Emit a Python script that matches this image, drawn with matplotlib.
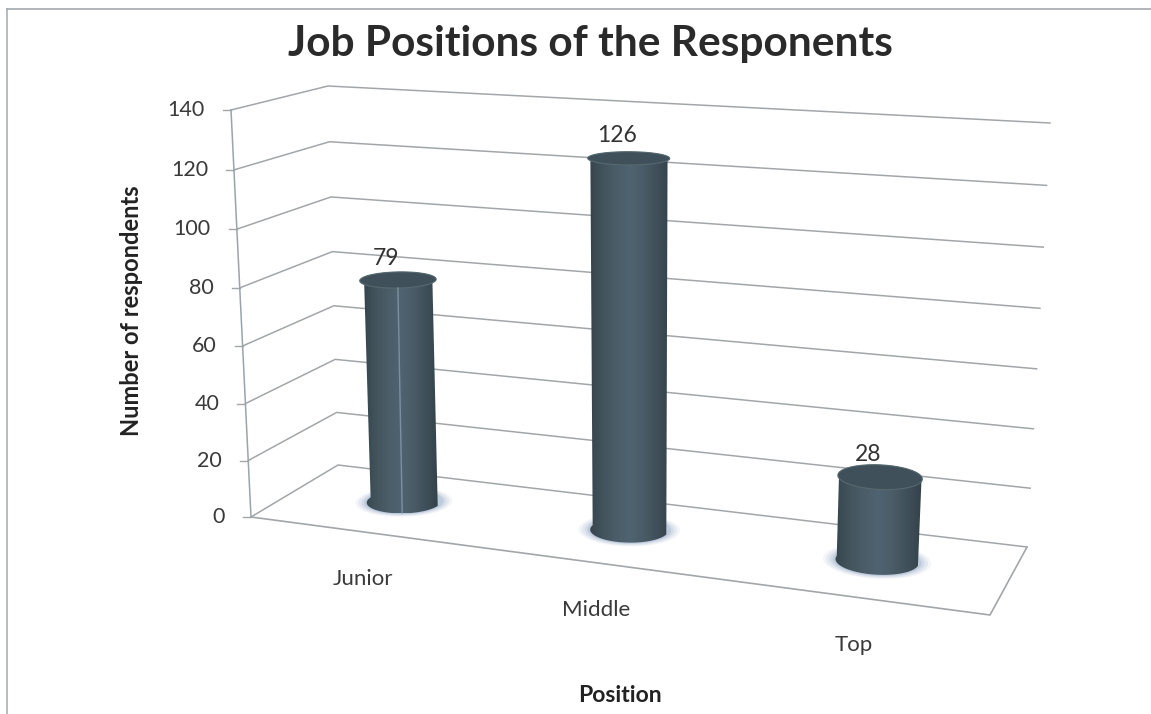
import matplotlib
matplotlib.use('Agg')
import matplotlib.pyplot as plt
import numpy as np
from matplotlib.colors import LinearSegmentedColormap
from matplotlib.patches import Polygon

categories = ['Junior', 'Middle', 'Top']
counts = [79, 126, 28]
value_ticks = [0, 20, 40, 60, 80, 100, 120, 140]
max_value = 140

plt.rcParams['font.family'] = ['Lato', 'DejaVu Sans']


def homography(corners):
    # unit square (t, d) -> four screen points
    src = [(0, 0), (1, 0), (1, 1), (0, 1)]
    A, b = [], []
    for (u, v), (x, y) in zip(src, corners):
        A.append([u, v, 1, 0, 0, 0, -u * x, -v * x])
        A.append([0, 0, 0, u, v, 1, -u * y, -v * y])
        b += [x, y]
    h = np.linalg.solve(np.array(A, float), np.array(b, float))
    return np.append(h, 1).reshape(3, 3)


# box corners on screen: front-left, front-right, back-right, back-left
floor_h = homography([(251, 517), (990, 615), (1027, 547), (338, 465)])
ceil_h = homography([(231, 110), (1018, 156), (1050, 123), (328, 86)])


def project(t, d, value):
    t, d = np.asarray(t, float), np.asarray(d, float)
    p = np.stack([t, d, np.ones_like(t)])
    a = floor_h @ p
    c = ceil_h @ p
    a = a[:2] / a[2]
    c = c[:2] / c[2]
    f = np.asarray(value, float) / max_value
    # vertical foreshortening, the upper part of the box is closer
    f = f / (1.035 - 0.035 * f)
    return a + (c - a) * f


fig = plt.figure(figsize=(11.51, 7.14), dpi=100)
ax = fig.add_axes([0, 0, 1, 1])
ax.axis('off')

# page frame
ax.plot([7, 7], [9, 714], color='#a9b2b6', lw=1.2)
ax.plot([7, 1151], [9, 9], color='#a4a8aa', lw=1.2)

grid = '#a3a6a8'
for v in value_ticks:
    xs, ys = project([0, 0, 1], [0, 1, 1], v)
    ax.plot(xs, ys, color=grid, lw=1.1, zorder=1)
    x0, y0 = project(0, 0, v)
    ax.plot([x0 - 8, x0], [y0, y0], color=grid, lw=1, zorder=1)
    ax.text(x0 - 26, y0, str(v), ha='right', va='center', fontsize=15.5, color='#3a3a3a')

# floor front and right edges, value axis
xs, ys = project([0, 1, 1], [0, 0, 1], 0)
ax.plot(xs, ys, color=grid, lw=1.2, zorder=1)
xs, ys = project([0, 0], [0, 0], np.array([0, max_value]))
ax.plot(xs, ys, color='#9aa4ac', lw=1.1, zorder=1)

body_cmap = LinearSegmentedColormap.from_list(
    'body', ['#36454d', '#43545d', '#4b5d68', '#4f6371', '#4a5c67', '#40505a', '#34424a'])
radius_t, radius_d = 0.052, 0.2
angles_front = np.radians(np.linspace(180, 360, 60))
angles_back = np.radians(np.linspace(0, 180, 60))
angles_all = np.radians(np.linspace(0, 360, 120))

for i, (name, n) in enumerate(zip(categories, counts)):
    t = (i + 0.5) / len(categories)
    d = 0.53

    def ring(angles, value):
        return project(t + radius_t * np.cos(angles), d + radius_d * np.sin(angles), value)

    # soft glow under the base
    bx, by = ring(angles_all, 0)
    cx, cy = bx.mean(), by.mean()
    for scale, alpha in zip([1.3, 1.22, 1.14, 1.07], [0.1, 0.14, 0.2, 0.3]):
        ax.add_patch(Polygon(np.c_[cx + (bx - cx) * scale, cy + (by - cy) * scale],
                             fc='#8fa6c4', ec='none', alpha=alpha, zorder=2))

    fx, fy = ring(angles_front, 0)
    tx, ty = ring(angles_back, n)
    outline = Polygon(np.c_[np.r_[fx, tx], np.r_[fy, ty]], fc='none', ec='none', zorder=3)
    ax.add_patch(outline)
    left, right = min(fx.min(), tx.min()), max(fx.max(), tx.max())
    top, bottom = ty.min(), fy.max()
    im = ax.imshow(np.linspace(0, 1, 128).reshape(1, -1), extent=[left, right, bottom, top],
                   cmap=body_cmap, aspect='auto', zorder=3)
    im.set_clip_path(outline)

    # lid
    lx, ly = ring(angles_all, n)
    ax.add_patch(Polygon(np.c_[lx, ly], fc='#40505a', ec='#56696f', lw=0.8, zorder=4))

    if name == 'Junior':
        # light seam down the middle of the body
        ax.plot([(lx.min() + lx.max()) / 2, (fx.min() + fx.max()) / 2], [ly.max(), fy.max()],
                color='#8fa3b3', lw=1, alpha=0.7, zorder=4)

    # value label above the lid, category label below the floor
    ax.text(lx.mean() - 12, ly.min() - (8 + n / 16), str(n), ha='center', va='center',
            fontsize=16.5, color='#333333', zorder=5)
    gx, gy = project(t, 0, 0)
    ax.text(gx + 3, gy + 48, name, ha='center', va='center', fontsize=16, color='#3a3a3a')

ax.text(590, 44, 'Job Positions of the Responents', ha='center', va='center',
        fontsize=30.5, fontweight='bold', color='#2a2a2a')
ax.text(132, 311, 'Number of respondents', rotation=90, ha='center', va='center',
        fontsize=17, fontweight='bold', color='#222222')
ax.text(620, 695, 'Position', ha='center', va='center',
        fontsize=16.5, fontweight='bold', color='#222222')

ax.set_xlim(0, 1151)
ax.set_ylim(714, 0)
fig.savefig('out.png', dpi=100)
